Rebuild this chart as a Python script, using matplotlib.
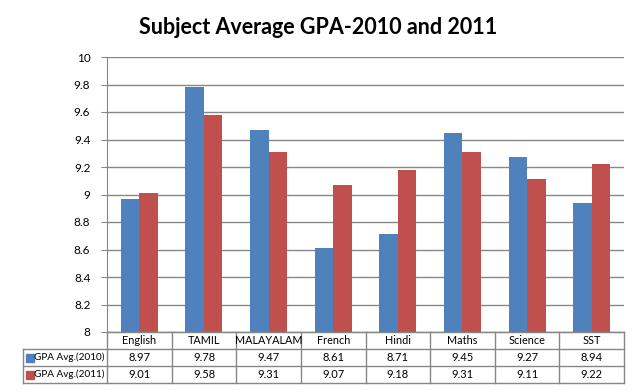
import matplotlib
matplotlib.use("Agg")
import matplotlib.pyplot as plt
from matplotlib.patches import Rectangle
import numpy as np

# data
subjects = ["English", "TAMIL", "MALAYALAM", "French", "Hindi", "Maths", "Science", "SST"]
gpa_2010 = [8.97, 9.78, 9.47, 8.61, 8.71, 9.45, 9.27, 8.94]
gpa_2011 = [9.01, 9.58, 9.31, 9.07, 9.18, 9.31, 9.11, 9.22]
series_names = ["GPA Avg.(2010)", "GPA Avg.(2011)"]
colors = ["#4F81BD", "#C0504D"]
yticks = [8, 8.2, 8.4, 8.6, 8.8, 9, 9.2, 9.4, 9.6, 9.8, 10]

plt.rcParams['font.family'] = ['Lato', 'DejaVu Sans']
W, H = 640, 392
fig = plt.figure(figsize=(W / 100, H / 100), dpi=100)

# plot area in pixels
left, right, top, bottom = 107, 624, 57, 332
ax = fig.add_axes([left / W, 1 - bottom / H, (right - left) / W, (bottom - top) / H])

x = np.arange(len(subjects))
bw = 0.286
ax.bar(x - bw / 2, np.array(gpa_2010) - 8, bw, bottom=8, color=colors[0], zorder=3)
ax.bar(x + bw / 2, np.array(gpa_2011) - 8, bw, bottom=8, color=colors[1], zorder=3)

ax.set_xlim(-0.5, len(subjects) - 0.5)
ax.set_ylim(8, 10)
ax.set_yticks(yticks)
ax.set_yticklabels([f"{v:g}" for v in yticks], fontsize=8.5)
ax.set_xticks([])
ax.yaxis.grid(True, color="#878787", linewidth=1, zorder=0)
ax.tick_params(axis='y', length=4, color="#878787", pad=8)
for s in ["top", "right"]:
    ax.spines[s].set_visible(False)
ax.spines["left"].set_color("#878787")
ax.spines["bottom"].set_color("#878787")

fig.text(318 / W, 1 - 27 / H, "Subject Average GPA-2010 and 2011",
         ha="center", va="center", fontsize=15.5, fontweight="bold")

# data table under the axis
gc = "#878787"
def fy(py):
    return 1 - py / H
def fx(px):
    return px / W

rows_y = [332, 349, 366, 383]
tbl_left = 23
col_w = (right - left) / len(subjects)
# horizontal lines
for i, py in enumerate(rows_y):
    x0 = left if i == 0 else tbl_left
    fig.add_artist(plt.Line2D([fx(x0), fx(right)], [fy(py), fy(py)], color=gc, lw=1))
# vertical lines
for j in range(len(subjects) + 1):
    px = left + j * col_w
    fig.add_artist(plt.Line2D([fx(px), fx(px)], [fy(rows_y[0]), fy(rows_y[-1])], color=gc, lw=1))
fig.add_artist(plt.Line2D([fx(tbl_left), fx(tbl_left)], [fy(rows_y[1]), fy(rows_y[-1])], color=gc, lw=1))

for j, name in enumerate(subjects):
    cx = left + (j + 0.5) * col_w
    fig.text(fx(cx), fy((rows_y[0] + rows_y[1]) / 2), name, ha="center", va="center", fontsize=7.8)
for r, vals in enumerate([gpa_2010, gpa_2011]):
    cy = (rows_y[r + 1] + rows_y[r + 2]) / 2
    fig.add_artist(Rectangle((fx(tbl_left + 3), fy(cy + 4)), 8 / W, 8 / H,
                             transform=fig.transFigure, color=colors[r]))
    fig.text(fx(tbl_left + 11), fy(cy), series_names[r], ha="left", va="center", fontsize=7.2)
    for j, v in enumerate(vals):
        cx = left + (j + 0.5) * col_w
        fig.text(fx(cx), fy(cy), f"{v:.2f}", ha="center", va="center", fontsize=8)

fig.savefig("out.png", dpi=100)
